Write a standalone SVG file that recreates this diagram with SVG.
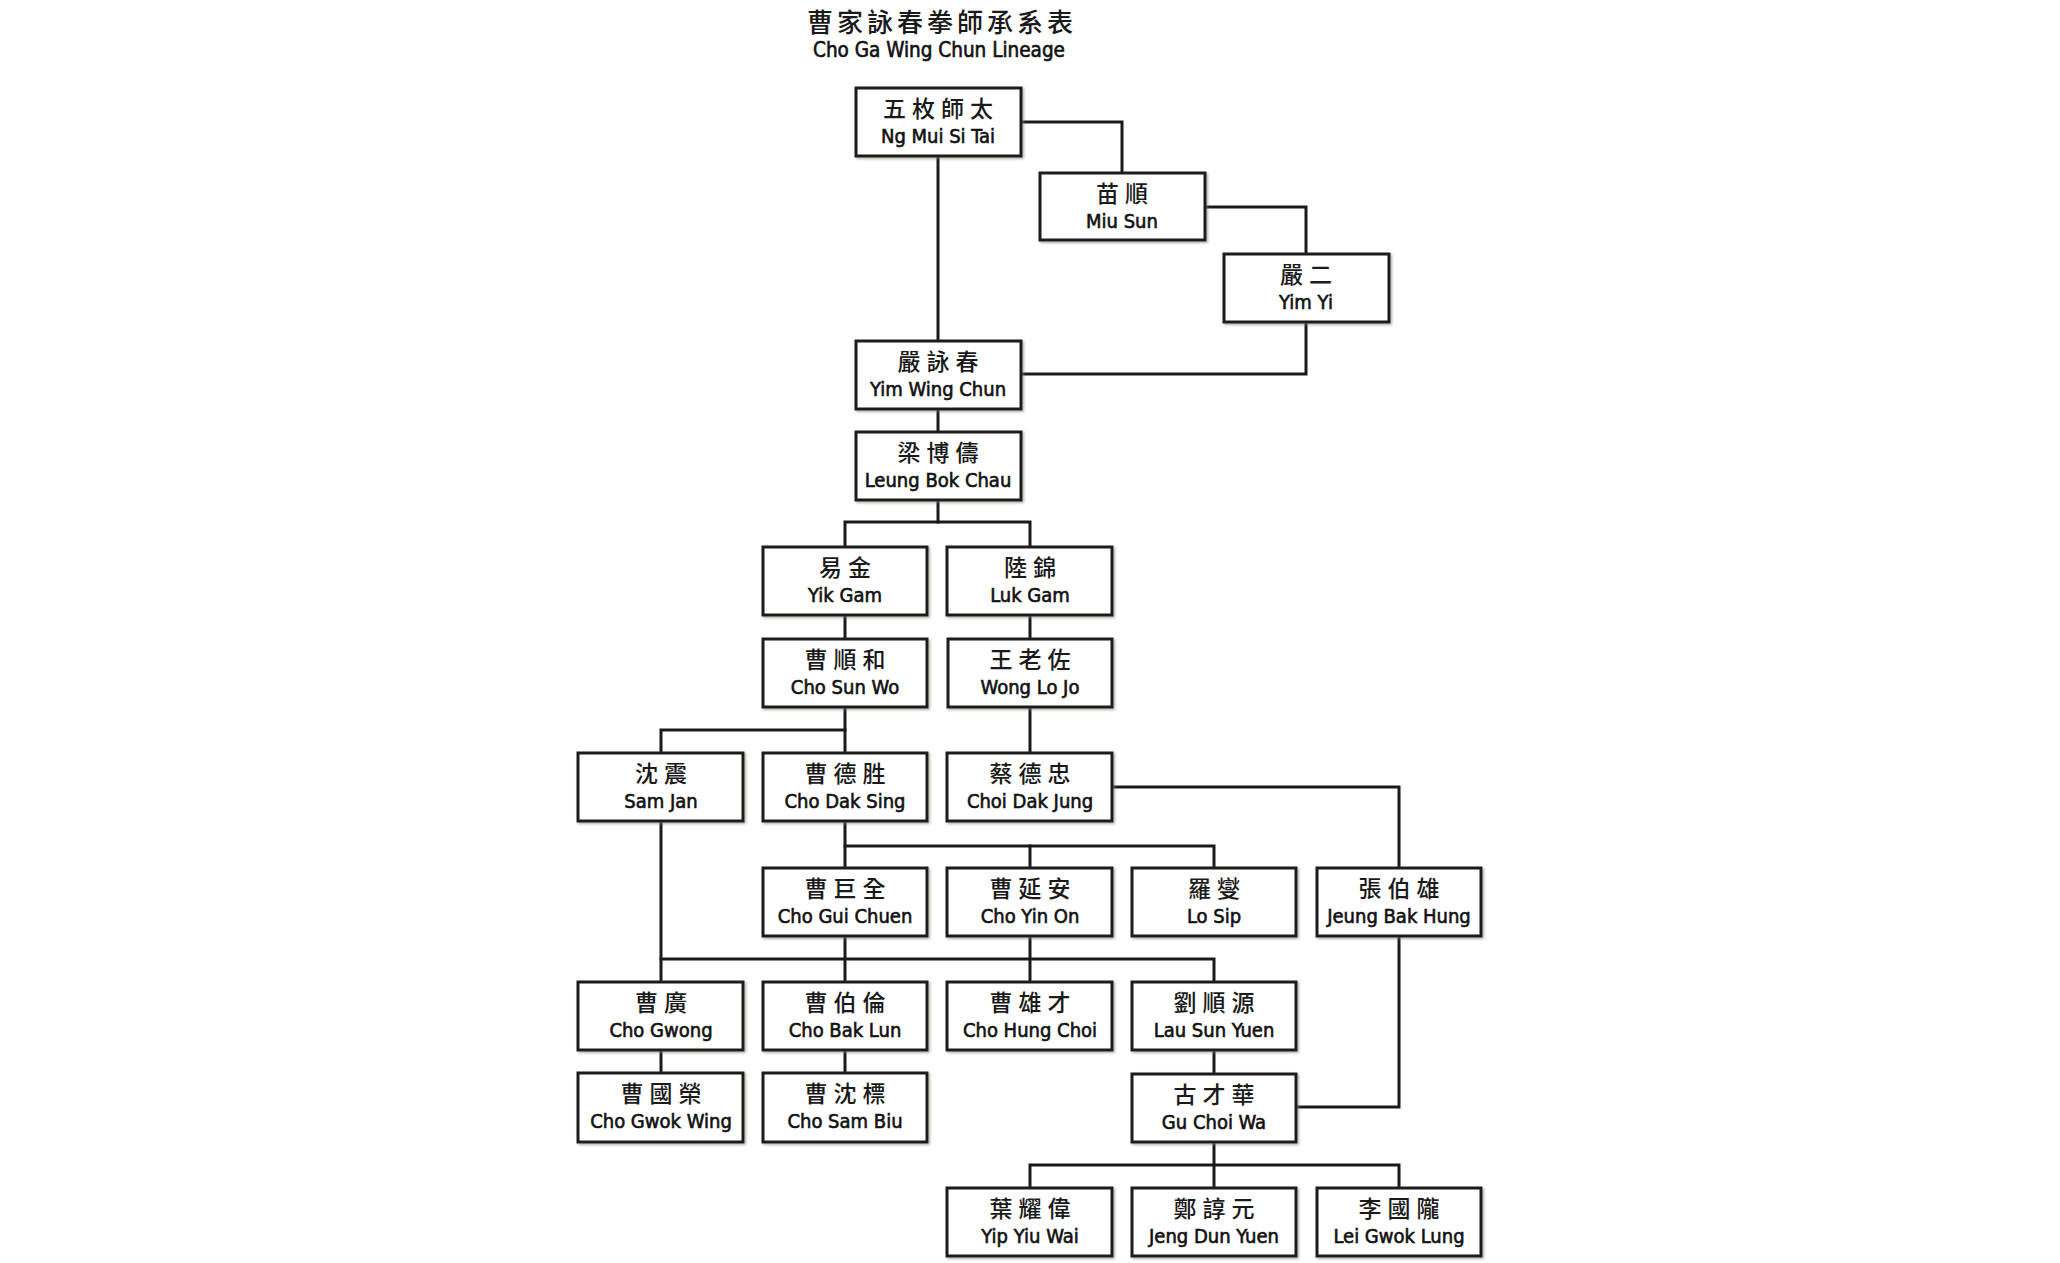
<svg xmlns="http://www.w3.org/2000/svg" width="2060" height="1263" viewBox="0 0 2060 1263">
<defs>
<filter id="sh" x="-5%" y="-5%" width="115%" height="125%">
<feDropShadow dx="1.5" dy="1.5" stdDeviation="1" flood-color="#7a7a70" flood-opacity="0.6"/>
</filter>
<style>
.box{fill:#fff;stroke:#1a1a1a;stroke-width:3;filter:url(#sh)}
.cn{font-family:"Noto Sans CJK TC","Noto Sans CJK SC",sans-serif;font-size:23px;font-weight:500;letter-spacing:6px;fill:#1a1a1a;text-anchor:middle}
.en{font-family:"DejaVu Sans Condensed","DejaVu Sans",sans-serif;font-stretch:condensed;font-size:20px;fill:#111;stroke:#111;stroke-width:0.6px;text-anchor:middle}
.ln{fill:none;stroke:#1a1a1a;stroke-width:3;stroke-linecap:square}
.tcn{font-family:"Noto Sans CJK TC","Noto Sans CJK SC",sans-serif;font-size:26px;font-weight:500;letter-spacing:4px;fill:#1a1a1a;text-anchor:middle}
.ten{font-family:"DejaVu Sans Condensed","DejaVu Sans",sans-serif;font-stretch:condensed;font-size:20.5px;fill:#111;stroke:#111;stroke-width:0.6px;text-anchor:middle}
</style>
</defs>
<rect width="2060" height="1263" fill="#fff"/>
<g id="title">
<text class="tcn" x="942" y="32">曹家詠春拳師承系表</text>
<text class="ten" x="939" y="57">Cho Ga Wing Chun Lineage</text>
</g>
<g id="connectors">
<path class="ln" d="M1021 122 H1122 V173"/>
<path class="ln" d="M1205 207 H1306 V254"/>
<path class="ln" d="M1306 322 V374 H1021"/>
<path class="ln" d="M938 156 V341"/>
<path class="ln" d="M938 409 V432"/>
<path class="ln" d="M938 500 V522"/>
<path class="ln" d="M845 547 V522 H1030 V547"/>
<path class="ln" d="M845 615 V639"/>
<path class="ln" d="M1030 615 V639"/>
<path class="ln" d="M845 707 V753"/>
<path class="ln" d="M661 753 V730 H845"/>
<path class="ln" d="M1030 707 V753"/>
<path class="ln" d="M1112 787 H1399 V868"/>
<path class="ln" d="M845 821 V846 H1214 V868"/>
<path class="ln" d="M845 846 V868"/>
<path class="ln" d="M1030 846 V868"/>
<path class="ln" d="M661 821 V982"/>
<path class="ln" d="M661 959 H1214 V982"/>
<path class="ln" d="M845 936 V982"/>
<path class="ln" d="M1030 936 V982"/>
<path class="ln" d="M661 1050 V1073"/>
<path class="ln" d="M845 1050 V1073"/>
<path class="ln" d="M1214 1050 V1074"/>
<path class="ln" d="M1399 936 V1107 H1296"/>
<path class="ln" d="M1214 1142 V1188"/>
<path class="ln" d="M1030 1188 V1165 H1399 V1188"/>
</g>
<g id="n-ngmui"><rect class="box" x="856" y="88" width="165" height="68"/><text class="cn" x="941" y="117">五枚師太</text><text class="en" x="938" y="143">Ng Mui Si Tai</text></g>
<g id="n-miusun"><rect class="box" x="1040" y="173" width="165" height="67"/><text class="cn" x="1125" y="202">苗順</text><text class="en" x="1122" y="228">Miu Sun</text></g>
<g id="n-yimyi"><rect class="box" x="1224" y="254" width="165" height="68"/><text class="cn" x="1309" y="283">嚴二</text><text class="en" x="1306" y="309">Yim Yi</text></g>
<g id="n-yimwingchun"><rect class="box" x="856" y="341" width="165" height="68"/><text class="cn" x="941" y="370">嚴詠春</text><text class="en" x="938" y="396">Yim Wing Chun</text></g>
<g id="n-leungbokchau"><rect class="box" x="856" y="432" width="165" height="68"/><text class="cn" x="941" y="461">梁博儔</text><text class="en" x="938" y="487">Leung Bok Chau</text></g>
<g id="n-yikgam"><rect class="box" x="763" y="547" width="164" height="68"/><text class="cn" x="848" y="576">易金</text><text class="en" x="845" y="602">Yik Gam</text></g>
<g id="n-lukgam"><rect class="box" x="947" y="547" width="165" height="68"/><text class="cn" x="1033" y="576">陸錦</text><text class="en" x="1030" y="602">Luk Gam</text></g>
<g id="n-chosunwo"><rect class="box" x="763" y="639" width="164" height="68"/><text class="cn" x="848" y="668">曹順和</text><text class="en" x="845" y="694">Cho Sun Wo</text></g>
<g id="n-wonglojo"><rect class="box" x="948" y="639" width="164" height="68"/><text class="cn" x="1033" y="668">王老佐</text><text class="en" x="1030" y="694">Wong Lo Jo</text></g>
<g id="n-samjan"><rect class="box" x="578" y="753" width="165" height="68"/><text class="cn" x="664" y="782">沈震</text><text class="en" x="661" y="808">Sam Jan</text></g>
<g id="n-chodaksing"><rect class="box" x="763" y="753" width="164" height="68"/><text class="cn" x="848" y="782">曹德胜</text><text class="en" x="845" y="808">Cho Dak Sing</text></g>
<g id="n-choidakjung"><rect class="box" x="947" y="753" width="165" height="68"/><text class="cn" x="1033" y="782">蔡德忠</text><text class="en" x="1030" y="808">Choi Dak Jung</text></g>
<g id="n-choguichuen"><rect class="box" x="763" y="868" width="164" height="68"/><text class="cn" x="848" y="897">曹巨全</text><text class="en" x="845" y="923">Cho Gui Chuen</text></g>
<g id="n-choyinon"><rect class="box" x="947" y="868" width="165" height="68"/><text class="cn" x="1033" y="897">曹延安</text><text class="en" x="1030" y="923">Cho Yin On</text></g>
<g id="n-losip"><rect class="box" x="1132" y="868" width="164" height="68"/><text class="cn" x="1217" y="897">羅燮</text><text class="en" x="1214" y="923">Lo Sip</text></g>
<g id="n-jeungbakhung"><rect class="box" x="1317" y="868" width="164" height="68"/><text class="cn" x="1402" y="897">張伯雄</text><text class="en" x="1399" y="923">Jeung Bak Hung</text></g>
<g id="n-chogwong"><rect class="box" x="578" y="982" width="165" height="68"/><text class="cn" x="664" y="1011">曹廣</text><text class="en" x="661" y="1037">Cho Gwong</text></g>
<g id="n-chobaklun"><rect class="box" x="763" y="982" width="164" height="68"/><text class="cn" x="848" y="1011">曹伯倫</text><text class="en" x="845" y="1037">Cho Bak Lun</text></g>
<g id="n-chohungchoi"><rect class="box" x="947" y="982" width="165" height="68"/><text class="cn" x="1033" y="1011">曹雄才</text><text class="en" x="1030" y="1037">Cho Hung Choi</text></g>
<g id="n-lausunyuen"><rect class="box" x="1132" y="982" width="164" height="68"/><text class="cn" x="1217" y="1011">劉順源</text><text class="en" x="1214" y="1037">Lau Sun Yuen</text></g>
<g id="n-chogwokwing"><rect class="box" x="578" y="1073" width="165" height="69"/><text class="cn" x="664" y="1102">曹國榮</text><text class="en" x="661" y="1128">Cho Gwok Wing</text></g>
<g id="n-chosambiu"><rect class="box" x="763" y="1073" width="164" height="69"/><text class="cn" x="848" y="1102">曹沈標</text><text class="en" x="845" y="1128">Cho Sam Biu</text></g>
<g id="n-guchoiwa"><rect class="box" x="1132" y="1074" width="164" height="68"/><text class="cn" x="1217" y="1103">古才華</text><text class="en" x="1214" y="1129">Gu Choi Wa</text></g>
<g id="n-yipyiuwai"><rect class="box" x="947" y="1188" width="165" height="68"/><text class="cn" x="1033" y="1217">葉耀偉</text><text class="en" x="1030" y="1243">Yip Yiu Wai</text></g>
<g id="n-jengdunyuen"><rect class="box" x="1132" y="1188" width="164" height="68"/><text class="cn" x="1217" y="1217">鄭諄元</text><text class="en" x="1214" y="1243">Jeng Dun Yuen</text></g>
<g id="n-leigwoklung"><rect class="box" x="1317" y="1188" width="164" height="68"/><text class="cn" x="1402" y="1217">李國隴</text><text class="en" x="1399" y="1243">Lei Gwok Lung</text></g>
</svg>
